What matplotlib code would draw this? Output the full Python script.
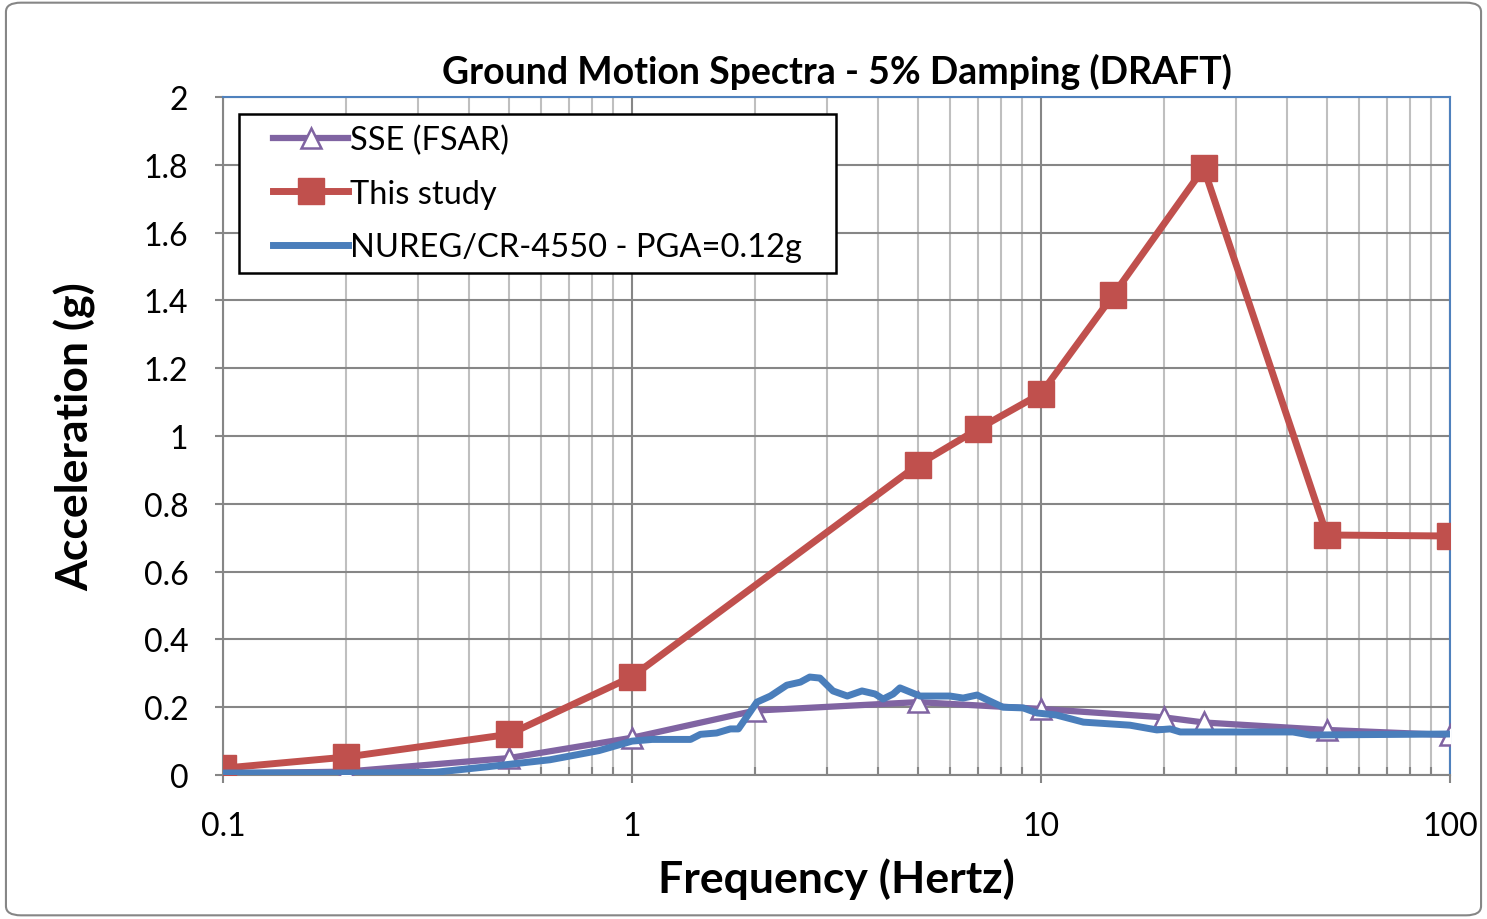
"""Ground motion spectra comparison, 5% damping."""

import matplotlib.pyplot as plt
from matplotlib.patches import FancyBboxPatch, Rectangle
from matplotlib.ticker import FixedLocator, LogLocator, NullFormatter

plt.rcParams['font.family'] = ['Lato', 'DejaVu Sans']

# SSE (FSAR)
sse_freq = [0.1, 0.2, 0.5, 1, 2, 5, 10, 20, 25, 50, 100]
sse_acc = [0.005, 0.01, 0.05, 0.11, 0.19, 0.215, 0.195, 0.17, 0.155, 0.133, 0.118]

# This study
study_freq = [0.1, 0.2, 0.5, 1, 5, 7, 10, 15, 25, 50, 100]
study_acc = [0.02, 0.053, 0.12, 0.29, 0.915, 1.02, 1.125, 1.415, 1.79, 0.708, 0.705]

# NUREG/CR-4550 - PGA=0.12g
nureg_freq = [0.1, 0.2, 0.33, 0.44, 0.63, 0.83, 1.0, 1.12, 1.39, 1.47, 1.61,
              1.74, 1.82, 2.02, 2.18, 2.39, 2.58, 2.72, 2.88, 3.1, 3.36, 3.65,
              3.93, 4.11, 4.35, 4.52, 5.06, 5.99, 6.45, 6.98, 7.5, 8.07, 9.04,
              9.78, 10.9, 12.7, 16.5, 19.2, 20.7, 21.9, 41.3, 45.5, 100]
nureg_acc = [0.006, 0.006, 0.008, 0.024, 0.045, 0.072, 0.10, 0.105, 0.105,
             0.12, 0.124, 0.136, 0.136, 0.215, 0.233, 0.265, 0.274, 0.289,
             0.286, 0.248, 0.233, 0.248, 0.239, 0.224, 0.239, 0.257, 0.233,
             0.233, 0.227, 0.236, 0.218, 0.2, 0.198, 0.183, 0.177, 0.156,
             0.147, 0.133, 0.136, 0.127, 0.127, 0.118, 0.121]

fig = plt.figure(figsize=(14.87, 9.2), dpi=100)
ax = fig.add_axes([0.15, 0.1565, 0.8251, 0.737])

ax.plot(sse_freq, sse_acc, color='#8064A2', lw=4.5, marker='^', ms=15,
        mfc='white', mec='#8064A2', mew=1.8, label='SSE (FSAR)', zorder=3)
ax.plot(study_freq, study_acc, color='#C0504D', lw=5, marker='s', ms=19,
        label='This study', zorder=4)
ax.plot(nureg_freq, nureg_acc, color='#4A7EBB', lw=5,
        label='NUREG/CR-4550 - PGA=0.12g', zorder=5)

ax.set_xscale('log')
ax.set_xlim(0.1, 100)
ax.set_ylim(0, 2)
ax.xaxis.set_major_locator(FixedLocator([0.1, 1, 10, 100]))
ax.set_xticklabels(['0.1', '1', '10', '100'])
ax.xaxis.set_minor_locator(LogLocator(base=10, subs=range(2, 10)))
ax.xaxis.set_minor_formatter(NullFormatter())
ax.set_yticks([0, 0.2, 0.4, 0.6, 0.8, 1, 1.2, 1.4, 1.6, 1.8, 2])
ax.set_yticklabels(['0', '0.2', '0.4', '0.6', '0.8', '1', '1.2', '1.4',
                    '1.6', '1.8', '2'])

ax.grid(which='major', axis='y', color='#868686', lw=1.5)
ax.grid(which='major', axis='x', color='#868686', lw=1.5)
ax.grid(which='minor', axis='x', color='#BFBFBF', lw=1.5)
ax.set_axisbelow(True)

ax.tick_params(axis='both', which='major', labelsize=23, length=6,
               color='#868686', width=1.5)
ax.tick_params(axis='x', which='major', direction='out', pad=20)
ax.tick_params(axis='x', which='minor', direction='in', length=6,
               color='#868686', width=1.5)
ax.tick_params(axis='y', pad=19)

for side in ['left', 'bottom']:
    ax.spines[side].set_color('#868686')
    ax.spines[side].set_linewidth(1.5)
for side in ['top', 'right']:
    ax.spines[side].set_color('#4F81BD')
    ax.spines[side].set_linewidth(1.5)

ax.set_title('Ground Motion Spectra - 5% Damping (DRAFT)', fontsize=27,
             fontweight='bold', pad=10)
ax.set_xlabel('Frequency (Hertz)', fontsize=32, fontweight='bold', labelpad=12)
ax.set_ylabel('Acceleration (g)', fontsize=32, fontweight='bold', labelpad=34)

leg = ax.legend(loc='upper left', bbox_to_anchor=(0.041, 0.959), fontsize=23.5,
                frameon=False, handlelength=2.3, handletextpad=0.05,
                borderpad=0, labelspacing=0.72, borderaxespad=0)
leg.set_zorder(7)

# Legend frame with wider side padding than top/bottom, like the original
fig.canvas.draw()
bb = leg.get_window_extent().transformed(ax.transAxes.inverted())
pad_x = 34 / ax.bbox.width
pad_y = 11 / ax.bbox.height
frame = Rectangle((bb.x0 - pad_x, bb.y0 - pad_y),
                  bb.width + 2 * pad_x, bb.height + 2 * pad_y,
                  transform=ax.transAxes, facecolor='white',
                  edgecolor='black', lw=1.8, zorder=6)
ax.add_artist(frame)

fig.patches.append(FancyBboxPatch((0.004, 0.004), 0.992, 0.992,
                                  boxstyle='round,pad=0,rounding_size=0.01',
                                  transform=fig.transFigure, fill=False,
                                  edgecolor='#868686', lw=1.5))

fig.savefig('out.png', dpi=100)
